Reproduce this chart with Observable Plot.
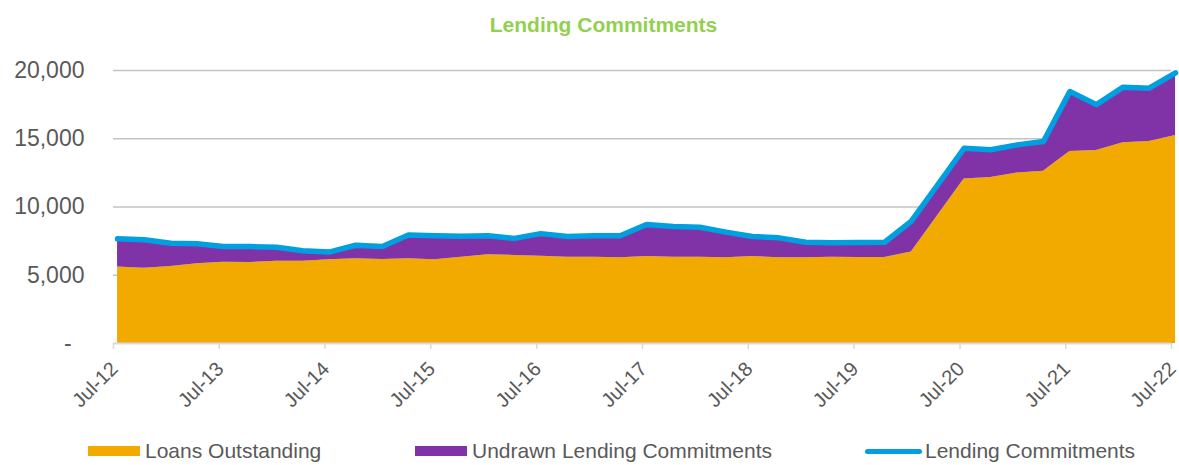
<!DOCTYPE html>
<html><head><meta charset="utf-8">
<script src="https://cdn.jsdelivr.net/npm/d3@7"></script>
<script src="https://cdn.jsdelivr.net/npm/@observablehq/plot@0.6"></script>
<style>
body{margin:0;background:#fff;font-family:"Liberation Sans",Arial,sans-serif;}
#wrap{position:relative;width:1179px;height:465px;overflow:hidden;}
#title{position:absolute;left:28px;top:0;width:1151px;height:50px;line-height:50px;text-align:center;font-weight:bold;font-size:21px;color:#92D050;}
#chart{position:absolute;left:0;top:50px;}
.leg{position:absolute;top:440px;height:22px;display:flex;align-items:center;font-size:21px;color:#595959;white-space:nowrap;}
.sw{width:52px;height:10px;margin-right:5px;}
.ln{width:57px;height:5px;border-radius:3px;margin-right:3px;}
</style></head><body>
<div id="wrap">
  <div id="title">Lending Commitments</div>
  <div id="chart"></div>
  <div id="legend"></div>
</div>
<script>
// Quarterly observations, Jul-2012 .. Jul-2022 (41 quarters)
const startYear = 2012, startMonth = 6, nQuarters = 41;
const loansOutstanding = [5600,5520,5640,5840,5960,5930,6030,6030,6130,6200,6150,6200,6130,6320,6500,6450,6400,6320,6320,6280,6370,6320,6320,6280,6370,6280,6280,6320,6300,6300,6700,9380,12060,12160,12500,12620,14070,14140,14700,14800,15240];
const lendingCommitments = [7670,7600,7350,7300,7100,7100,7050,6800,6700,7200,7100,7950,7900,7850,7900,7700,8050,7840,7900,7900,8720,8570,8520,8160,7840,7740,7420,7380,7400,7420,8960,11630,14300,14200,14550,14800,18460,17500,18780,18700,19830];
const yTicks = [0,5000,10000,15000,20000];
const xTickYears = [2012,2013,2014,2015,2016,2017,2018,2019,2020,2021,2022];
const seriesNames = ["Loans Outstanding","Undrawn Lending Commitments","Lending Commitments"];
const colors = {loans:"#F2A900", undrawn:"#7F33A6", line:"#009FDF"};

const quarters = d3.range(nQuarters).map(i => new Date(Date.UTC(startYear, startMonth + 3*i, 15)));
const data = quarters.map((d,i) => ({date:d, loans:loansOutstanding[i], total:lendingCommitments[i]}));
const xTicks = xTickYears.map(y => new Date(Date.UTC(y, 6, 1)));
const xLabels = xTicks.map(d => ({date:d, base:0}));
const fmt = d3.format(",");
const xFmt = d3.utcFormat("%b-%y");

const chart = Plot.plot({
  width: 1179, height: 385,
  marginLeft: 113, marginRight: 8, marginTop: 20, marginBottom: 92,
  style: {color:"#595959", background:"transparent", fontFamily:"'Liberation Sans', Arial, sans-serif", overflow:"visible"},
  x: {type:"utc", domain:[xTicks[0], xTicks[xTicks.length-1]]},
  y: {domain:[0,20000]},
  marks: [
    Plot.gridY(yTicks.filter(d => d > 0), {stroke:"#c3c3c3", strokeOpacity:1, strokeWidth:1.5}),
    Plot.areaY(data, {x:"date", y1:0, y2:"loans", fill:colors.loans}),
    Plot.areaY(data, {x:"date", y1:"loans", y2:"total", fill:colors.undrawn}),
    Plot.ruleY([0], {stroke:"#d9d9d9", strokeWidth:2}),
    Plot.line(data, {x:"date", y:"total", stroke:colors.line, strokeWidth:5.5, strokeLinejoin:"round", strokeLinecap:"round"}),
    Plot.axisY({ticks:yTicks, tickSize:0, tickPadding:29, fontSize:23, tickFormat:d => d === 0 ? "-\u00A0\u00A0" : fmt(d)}),
    Plot.axisX({ticks:xTicks, tickSize:6, stroke:"#d9d9d9", strokeWidth:1.5, tickFormat:() => ""}),
    Plot.text(xLabels, {x:"date", y:"base", text:d => xFmt(d.date), rotate:-45, textAnchor:"end", lineAnchor:"middle", dx:1, dy:22, fontSize:20, fill:"#595959"})
  ]
});
document.getElementById("chart").appendChild(chart);

const legend = document.getElementById("legend");
const items = [
  {name:seriesNames[0], cls:"sw", color:colors.loans, left:88},
  {name:seriesNames[1], cls:"sw", color:colors.undrawn, left:415},
  {name:seriesNames[2], cls:"ln", color:colors.line, left:865}
];
items.forEach(it => {
  const div = document.createElement("div");
  div.className = "leg";
  div.style.left = it.left + "px";
  const s = document.createElement("span");
  s.className = it.cls; s.style.background = it.color; s.style.display = "inline-block";
  const t = document.createElement("span");
  t.textContent = it.name;
  div.appendChild(s); div.appendChild(t);
  legend.appendChild(div);
});
</script>
</body></html>
